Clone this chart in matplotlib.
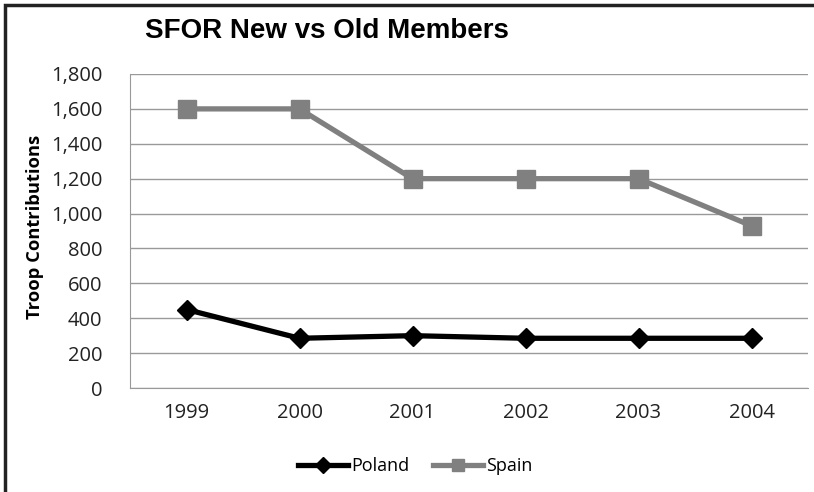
import matplotlib
matplotlib.use("Agg")
import matplotlib.pyplot as plt
from matplotlib.ticker import FuncFormatter
from matplotlib.patches import Rectangle
from matplotlib.lines import Line2D

years = ["1999", "2000", "2001", "2002", "2003", "2004"]
poland = [450, 285, 300, 285, 285, 285]
spain = [1600, 1600, 1200, 1200, 1200, 930]
y_ticks = [0, 200, 400, 600, 800, 1000, 1200, 1400, 1600, 1800]

W, H = 814, 492
fig = plt.figure(figsize=(W / 100, H / 100), dpi=100)
fig.patch.set_facecolor("white")

ax = fig.add_axes([130 / W, 1 - 388 / H, (808 - 130) / W, (388 - 74) / H])
x = list(range(len(years)))

ax.plot(x, spain, color="#808080", lw=3.8, marker="s", ms=13.5,
        markerfacecolor="#808080", markeredgecolor="#808080", label="Spain", zorder=3)
ax.plot(x, poland, color="black", lw=3.8, marker="D", ms=10.5,
        markerfacecolor="black", markeredgecolor="black", label="Poland", zorder=4)

ax.set_xlim(-0.5, len(years) - 0.5)
ax.set_ylim(0, 1800)
ax.set_yticks(y_ticks)
ax.yaxis.set_major_formatter(FuncFormatter(lambda v, p: f"{int(v):,}"))
ax.set_xticks(x)
ax.set_xticklabels(years)
ax.tick_params(axis="both", length=0, labelsize=14.5, colors="black")
ax.tick_params(axis="y", pad=20)
ax.tick_params(axis="x", pad=11)
for lab in ax.get_xticklabels() + ax.get_yticklabels():
    lab.set_fontfamily("Open Sans")
    lab.set_color("#222222")

ax.grid(axis="y", color="#999999", lw=1)
ax.set_axisbelow(True)
for s in ["top", "right"]:
    ax.spines[s].set_visible(False)
ax.spines["left"].set_color("#999999")
ax.spines["bottom"].set_color("#999999")

fig.text(35 / W, 1 - 227 / H, "Troop Contributions", rotation=90, ha="center", va="center",
         fontsize=13.2, fontweight="bold", family="Open Sans")
fig.text(145 / W, 1 - 31 / H, "SFOR New vs Old Members", ha="left", va="center",
         fontsize=20, fontweight="bold", family="Liberation Sans")

handles = [Line2D([], [], color="black", lw=3.8, marker="D", ms=8),
           Line2D([], [], color="#808080", lw=3.8, marker="s", ms=9)]
leg = fig.legend(handles, ["Poland", "Spain"], loc="center", bbox_to_anchor=(415 / W, 1 - 466 / H),
                 ncol=2, frameon=False, prop={"family": "Open Sans", "size": 13},
                 handlelength=2.8, handletextpad=0.15, columnspacing=1.3)

fig.patches.append(Rectangle((5 / W, -0.1), 1.2, (1 - 5 / H) + 0.1, transform=fig.transFigure,
                             fill=False, edgecolor="#222222", lw=2.5))

fig.savefig("out.png", dpi=100)
